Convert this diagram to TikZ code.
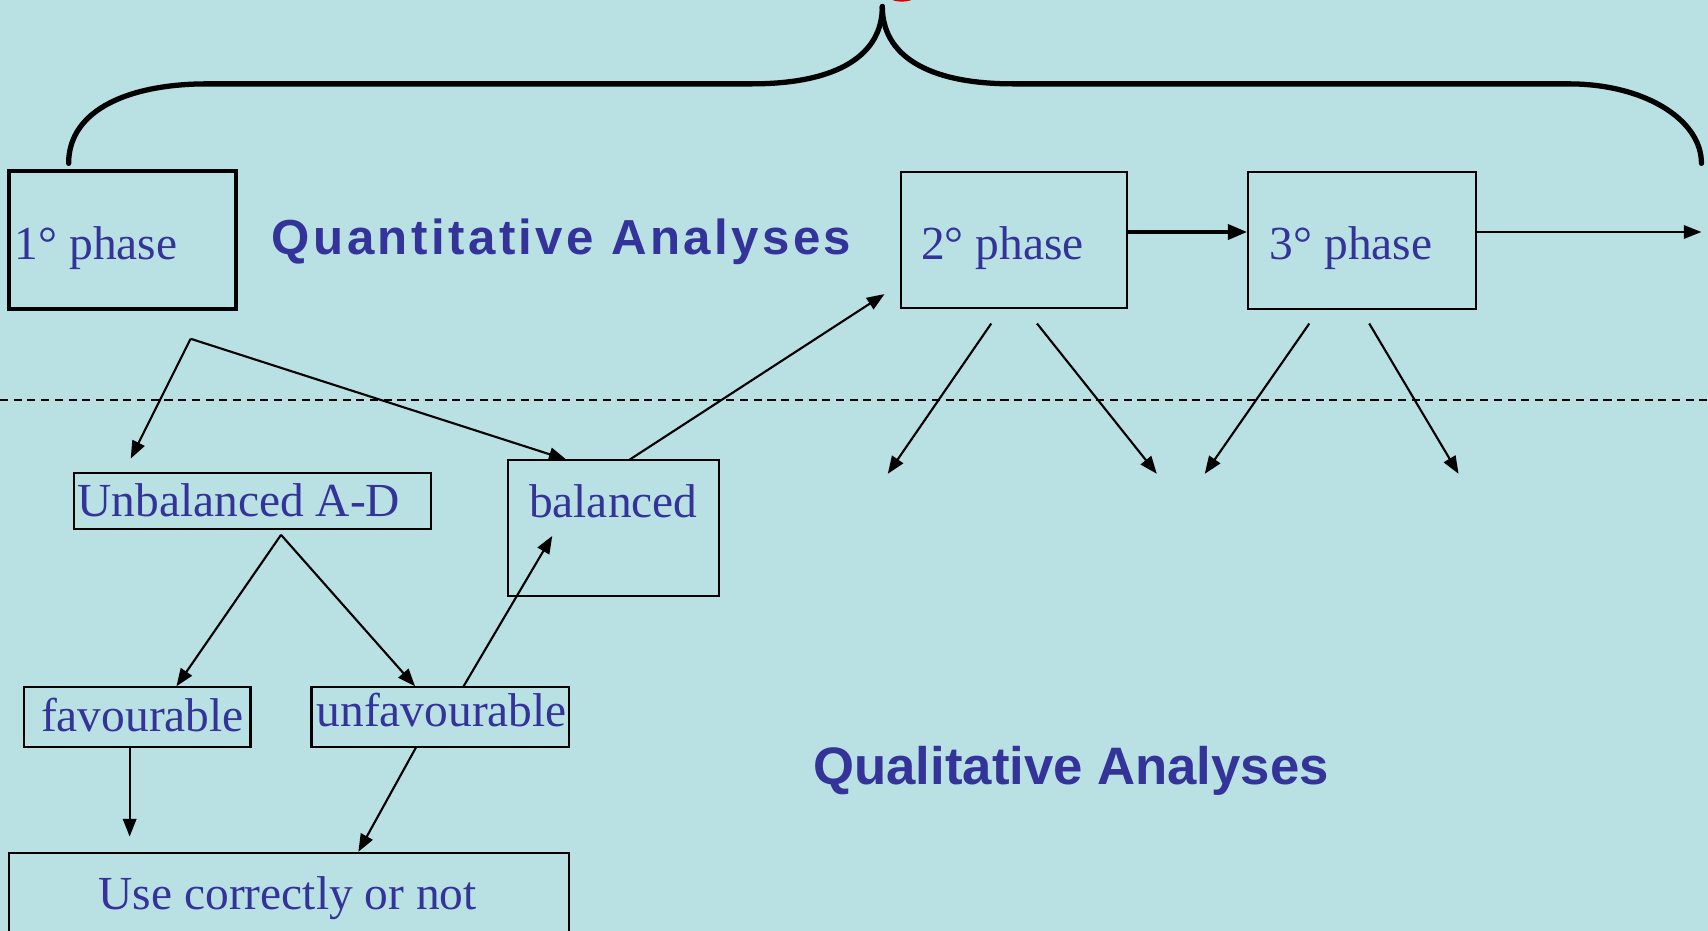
\documentclass[tikz,border=0pt]{standalone}
\usepackage{fontspec}
\setmainfont{Liberation Serif}
\newfontfamily\headfont[LetterSpace=7]{Liberation Sans}
\newfontfamily\headfontb{Liberation Sans}
\usetikzlibrary{arrows.meta,fit}
\definecolor{bgc}{RGB}{185,224,227}
\definecolor{txtc}{RGB}{51,51,153}
\tikzset{
  box/.style={draw=black, line width=0.6pt, inner sep=0pt, fill=none},
  thickbox/.style={draw=black, line width=1.1pt, inner sep=0pt},
  lbl/.style={inner sep=0pt, anchor=base west, text=txtc, font=\fontsize{13.5pt}{16pt}\selectfont},
  head/.style={inner sep=0pt, anchor=base west, text=txtc},
  conn/.style={line width=0.6pt, -{Triangle[length=5pt,width=3.8pt]}},
}
\begin{document}
\begin{tikzpicture}[x=0.010893cm, y=-0.010893cm]
\useasboundingbox (0,0) rectangle (1568,854.7);
\clip (0,0) rectangle (1568,854.7);
\fill[bgc] (0,0) rectangle (1568,854.7);
% brace
\draw[line width=1.5pt, line cap=round] (63,150) .. controls (63,100) and (120,77) .. (190,77) -- (690,77) .. controls (770,77) and (810,50) .. (810,6);
\draw[line width=1.5pt, line cap=round] (810,6) .. controls (810,50) and (850,77) .. (930,77) -- (1440,77) .. controls (1510,77) and (1562,110) .. (1562,150);
\fill[red!85!black] (828,-1.5) ellipse (10 and 3);
% boxes
\node[thickbox, fit={(8,157) (217,284)}] (p1) {};
\node[box, fit={(827,158) (1035,283)}] (p2) {};
\node[box, fit={(1146,158) (1355,284)}] (p3) {};
\node[box, fit={(68,434) (396,486)}] (uad) {};
\node[box, fit={(466,422) (660,547)}] (bal) {};
\node[box, fit={(22,631) (230,686)}] (fav) {};
\node[box, fit={(286,631) (522,686)}] (unfav) {};
\node[box, fit={(8,783) (522,900)}] (use) {};
% labels
\node[lbl] (t1) at (13,238) {1° phase};
\node[lbl] (t2) at (845,238) {2° phase};
\node[lbl] (t3) at (1165,238) {3° phase};
\node[lbl] (tuad) at (70.5,474.5) {Unbalanced A-D};
\node[lbl] (tbal) at (485,475) {balanced};
\node[lbl] (tfav) at (37,672) {favourable};
\node[lbl] (tunfav) at (290,667) {unfavourable};
\node[lbl] (tuse) at (90,835.4) {Use correctly or not};
\node[head, font=\headfont\bfseries\fontsize{14pt}{17pt}\selectfont] (quant) at (249,234) {Quantitative Analyses};
\node[head, font=\headfontb\bfseries\fontsize{15pt}{18pt}\selectfont] (qual) at (746,720.6) {Qualitative Analyses};
% dashed separator
\coordinate (dl) at (0,367);
\coordinate (dr) at (1568,367);
\draw[line width=0.6pt, dash pattern=on 2.3pt off 1.6pt] (dl) -- (dr);
% top chain
\coordinate (outend) at (1562,213);
\draw[line width=1.2pt, -{Triangle[length=5.5pt,width=4.2pt]}] (p2.east |- 0,213) -- (p3.west |- 0,213);
\draw[conn] (p3.east |- 0,213) -- (outend);
% arrows out of phases 2 and 3
\coordinate (a2s1) at (910,297); \coordinate (a2e1) at (815,435);
\coordinate (a2s2) at (952,297); \coordinate (a2e2) at (1062,435);
\coordinate (a3s1) at (1202,297); \coordinate (a3e1) at (1106,435);
\coordinate (a3s2) at (1257,297); \coordinate (a3e2) at (1339,435);
\draw[conn] (a2s1) -- (a2e1);
\draw[conn] (a2s2) -- (a2e2);
\draw[conn] (a3s1) -- (a3e1);
\draw[conn] (a3s2) -- (a3e2);
% left tree
\coordinate (fork) at (175,311);
\coordinate (uadin) at (120,421);
\coordinate (balin) at (520,422);
\draw[conn] (fork) -- (uadin);
\draw[conn] (fork) -- (balin);
\coordinate (balout) at (578,422);
\coordinate (p2in) at (812,270);
\draw[conn] (balout) -- (p2in);
\coordinate (uadout) at (258,491);
\coordinate (favin) at (162,630);
\coordinate (unfin) at (381,630);
\draw[conn] (uadout) -- (favin);
\draw[conn] (uadout) -- (unfin);
\coordinate (unfup) at (425,631);
\coordinate (balbot) at (507,492);
\draw[conn] (unfup) -- (balbot);
\coordinate (favdown) at (119,686);
\coordinate (favend) at (119,768);
\draw[conn] (favdown) -- (favend);
\coordinate (unfdown) at (382,686);
\coordinate (unfend) at (329,782);
\draw[conn] (unfdown) -- (unfend);
\end{tikzpicture}
\end{document}
